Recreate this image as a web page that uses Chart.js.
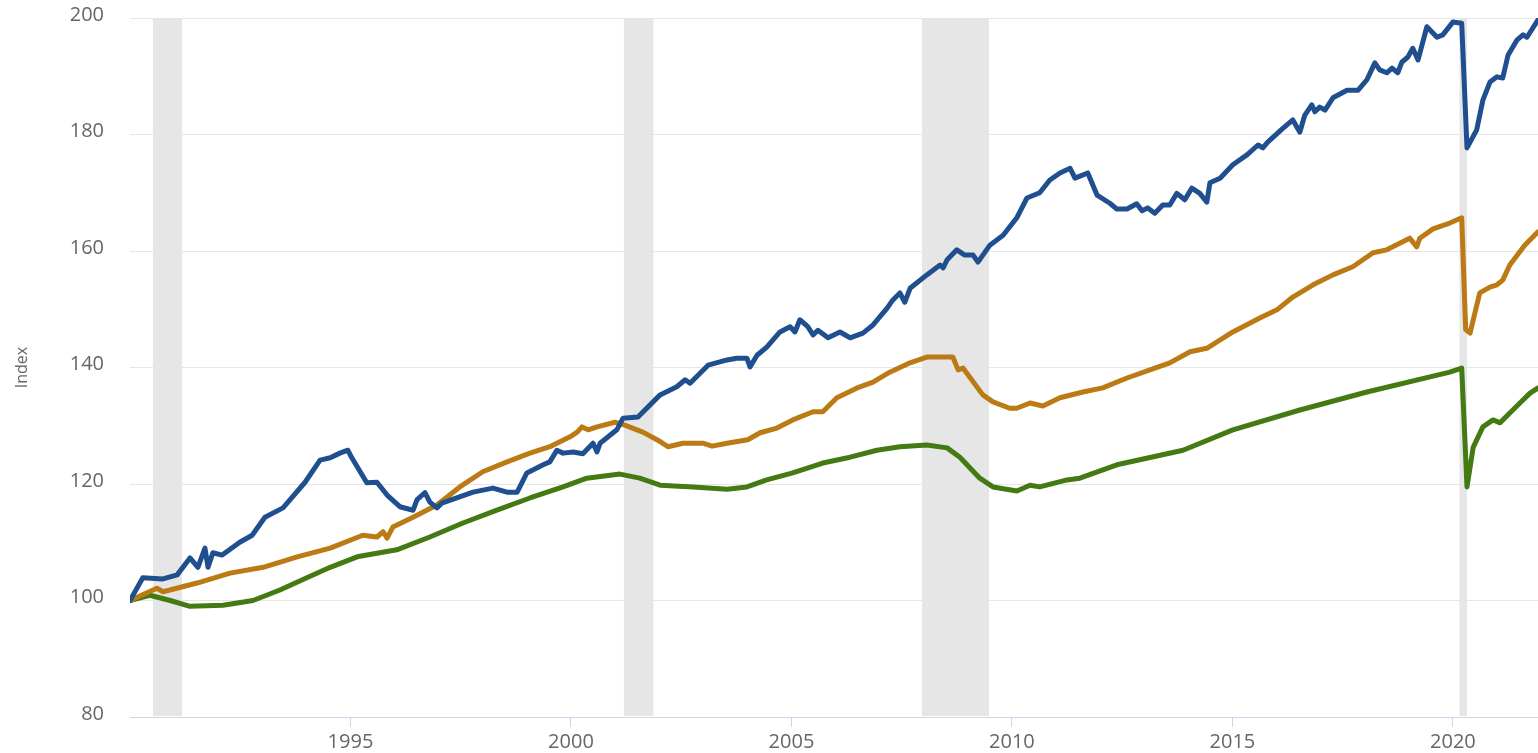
<!DOCTYPE html>
<html>
<head>
<meta charset="utf-8">
<script src="https://cdn.jsdelivr.net/npm/chart.js@4/dist/chart.umd.min.js"></script>
<style>
  html, body { margin: 0; padding: 0; background: #ffffff; }
  #wrap { width: 1538px; height: 753px; }
</style>
</head>
<body>
<div id="wrap"><canvas id="c" width="1538" height="753"></canvas></div>
<script>
// ---- Data (decimal years, index values) ----
const blueDates = [1990.00,1990.29,1990.75,1991.07,1991.36,1991.54,1991.70,1991.77,1991.88,1992.09,1992.49,1992.77,1993.06,1993.47,1993.97,1994.31,1994.54,1994.76,1994.94,1995.03,1995.37,1995.60,1995.83,1996.12,1996.42,1996.51,1996.69,1996.80,1996.96,1997.07,1997.41,1997.78,1998.23,1998.55,1998.78,1999.00,1999.37,1999.52,1999.68,1999.82,2000.05,2000.27,2000.50,2000.59,2000.66,2001.04,2001.18,2001.52,2002.02,2002.40,2002.59,2002.70,2003.11,2003.54,2003.76,2003.99,2004.06,2004.22,2004.44,2004.74,2004.97,2005.08,2005.19,2005.37,2005.49,2005.60,2005.83,2006.10,2006.33,2006.62,2006.85,2007.17,2007.30,2007.46,2007.57,2007.69,2008.07,2008.37,2008.44,2008.53,2008.75,2008.93,2009.12,2009.23,2009.50,2009.80,2010.11,2010.34,2010.63,2010.86,2011.09,2011.32,2011.43,2011.72,2011.93,2012.22,2012.38,2012.61,2012.83,2012.95,2013.08,2013.24,2013.42,2013.58,2013.74,2013.92,2014.08,2014.26,2014.42,2014.49,2014.72,2015.01,2015.33,2015.58,2015.69,2015.80,2016.15,2016.37,2016.53,2016.64,2016.80,2016.87,2016.98,2017.10,2017.28,2017.60,2017.85,2018.05,2018.23,2018.34,2018.50,2018.62,2018.75,2018.84,2018.98,2019.09,2019.21,2019.41,2019.64,2019.77,2020.00,2020.20,2020.32,2020.54,2020.68,2020.84,2021.00,2021.13,2021.25,2021.45,2021.59,2021.68,2021.93];
const blueValues = [100.0,103.9,103.7,104.4,107.3,105.7,109.0,105.7,108.2,107.8,110.0,111.2,114.3,115.9,120.3,124.1,124.5,125.3,125.8,124.5,120.2,120.3,118.1,116.1,115.5,117.3,118.5,116.9,115.9,116.7,117.6,118.6,119.3,118.6,118.6,121.9,123.3,123.8,125.8,125.3,125.5,125.2,127.0,125.5,127.0,129.3,131.3,131.5,135.3,136.7,137.9,137.3,140.4,141.3,141.6,141.6,140.1,142.1,143.5,146.1,147.0,146.1,148.2,147.0,145.6,146.4,145.1,146.1,145.1,145.9,147.3,150.2,151.6,152.8,151.2,153.6,155.9,157.6,157.1,158.5,160.2,159.3,159.3,158.1,161.0,162.7,165.7,169.1,170.0,172.2,173.4,174.2,172.5,173.4,169.6,168.2,167.2,167.2,168.1,166.9,167.4,166.5,167.9,167.9,169.9,168.8,170.8,169.9,168.4,171.7,172.5,174.8,176.5,178.2,177.7,178.7,181.1,182.5,180.4,183.3,185.1,183.9,184.7,184.2,186.3,187.6,187.6,189.4,192.3,191.1,190.6,191.4,190.6,192.4,193.3,194.8,192.8,198.5,196.7,197.1,199.3,199.1,177.7,180.8,185.9,189.0,189.9,189.7,193.6,196.2,197.1,196.7,199.7];

const orangeDates = [1990.00,1990.61,1990.75,1991.52,1992.27,1993.02,1993.79,1994.54,1995.28,1995.60,1995.74,1995.83,1995.96,1996.42,1996.96,1997.48,1998.00,1998.55,1999.07,1999.52,1999.98,2000.14,2000.25,2000.39,2000.59,2001.00,2001.22,2001.63,2001.95,2002.20,2002.54,2002.99,2003.20,2003.54,2004.01,2004.29,2004.67,2005.03,2005.49,2005.71,2006.03,2006.49,2006.85,2007.23,2007.69,2008.07,2008.66,2008.78,2008.89,2009.34,2009.57,2009.95,2010.11,2010.41,2010.70,2011.09,2011.61,2012.06,2012.61,2013.13,2013.58,2014.04,2014.42,2015.01,2015.62,2016.01,2016.37,2016.83,2017.28,2017.73,2018.19,2018.50,2019.02,2019.18,2019.25,2019.55,2019.93,2020.20,2020.29,2020.39,2020.50,2020.61,2020.84,2021.00,2021.13,2021.29,2021.63,2021.93];
const orangeValues = [100.0,102.1,101.5,103.0,104.7,105.7,107.5,109.0,111.2,110.9,111.8,110.7,112.6,114.3,116.4,119.5,122.1,123.8,125.3,126.4,128.1,128.9,129.8,129.3,129.8,130.6,130.1,128.9,127.6,126.4,127.0,127.0,126.5,127.0,127.6,128.8,129.6,131.0,132.4,132.4,134.8,136.5,137.5,139.2,140.8,141.8,141.8,139.6,139.9,135.3,134.1,133.0,133.0,133.9,133.4,134.8,135.8,136.5,138.2,139.6,140.8,142.7,143.3,146.1,148.5,149.9,152.1,154.2,155.9,157.3,159.7,160.2,162.2,160.7,162.2,163.8,164.8,165.7,146.5,145.9,149.4,152.8,153.8,154.2,155.0,157.6,161.0,163.3];

const greenDates = [1990.00,1990.45,1990.91,1991.36,1992.11,1992.79,1993.40,1994.01,1994.54,1995.15,1996.05,1996.80,1997.55,1998.32,1999.07,1999.82,2000.36,2001.11,2001.56,2002.02,2002.77,2003.54,2003.99,2004.44,2005.03,2005.71,2006.33,2006.94,2007.46,2008.07,2008.53,2008.82,2009.27,2009.57,2010.11,2010.41,2010.63,2011.25,2011.54,2012.38,2013.88,2015.01,2016.53,2018.05,2019.93,2020.20,2020.32,2020.46,2020.68,2020.91,2021.07,2021.29,2021.52,2021.75,2021.93];
const greenValues = [100.0,100.9,100.0,99.0,99.2,100.0,101.8,103.9,105.7,107.5,108.7,110.9,113.3,115.5,117.6,119.5,121.0,121.7,121.0,119.8,119.5,119.1,119.5,120.7,121.9,123.6,124.6,125.8,126.4,126.7,126.2,124.6,121.0,119.5,118.8,119.8,119.5,120.7,121.0,123.3,125.8,129.3,132.7,135.8,139.2,139.9,119.5,126.3,129.8,131.0,130.5,132.2,133.9,135.6,136.5];

// Recession periods (shaded)
const recessionStarts = [1990.52, 2001.20, 2007.96, 2020.15];
const recessionEnds   = [1991.18, 2001.87, 2009.48, 2020.32];

// Axis ticks
const xTickYears = [1995, 2000, 2005, 2010, 2015, 2020];
const yTickValues = [80, 100, 120, 140, 160, 180, 200];

const toPts = (xs, ys) => xs.map((x, i) => ({ x: x, y: ys[i] }));

const recessionPlugin = {
  id: 'recessions',
  beforeDatasetsDraw(chart) {
    const { ctx, chartArea, scales } = chart;
    ctx.save();
    ctx.fillStyle = '#e6e6e6';
    for (let i = 0; i < recessionStarts.length; i++) {
      const x1 = scales.x.getPixelForValue(recessionStarts[i]);
      const x2 = scales.x.getPixelForValue(recessionEnds[i]);
      ctx.fillRect(x1, chartArea.top, x2 - x1, chartArea.bottom - chartArea.top - 1);
    }
    ctx.restore();
  }
};

const lineDs = (label, pts, color) => ({
  label, data: pts, borderColor: color, backgroundColor: color,
  borderWidth: 5, pointRadius: 0, tension: 0,
  borderJoinStyle: 'round', borderCapStyle: 'round', fill: false
});

new Chart(document.getElementById('c'), {
  type: 'line',
  data: {
    datasets: [
      lineDs('Series A', toPts(blueDates, blueValues), '#1f4f8f'),
      lineDs('Series B', toPts(orangeDates, orangeValues), '#bb7a14'),
      lineDs('Series C', toPts(greenDates, greenValues), '#437a12')
    ]
  },
  plugins: [recessionPlugin],
  options: {
    responsive: false,
    devicePixelRatio: 1,
    animation: false,
    layout: { padding: { top: 18, right: 0, left: 0, bottom: 0 } },
    plugins: { legend: { display: false }, tooltip: { enabled: false } },
    scales: {
      x: {
        type: 'linear',
        min: 1990,
        max: 2021.93,
        afterBuildTicks: (s) => { s.ticks = xTickYears.map(v => ({ value: v })); },
        afterFit: (s) => { s.height = 36; },
        grid: { drawOnChartArea: false, drawTicks: true, tickLength: 10, tickColor: '#ccd6eb', lineWidth: 1 },
        border: { display: true, color: '#ccd6eb', width: 1 },
        ticks: {
          color: '#666666', padding: 3,
          font: { family: 'Open Sans', size: 20 },
          callback: (v) => String(v), maxRotation: 0, autoSkip: false
        }
      },
      y: {
        min: 80, max: 200,
        afterBuildTicks: (s) => { s.ticks = yTickValues.map(v => ({ value: v })); },
        afterFit: (s) => { s.width = 130; },
        grid: { color: '#e6e6e6', lineWidth: 1, drawTicks: true, tickLength: 26, tickColor: 'rgba(0,0,0,0)' },
        border: { display: false },
        ticks: {
          color: '#666666', padding: 0, labelOffset: -3,
          font: { family: 'Open Sans', size: 20 },
          callback: (v) => String(v)
        },
        title: {
          display: true, text: 'Index', color: '#666666',
          font: { family: 'Open Sans', size: 16 },
          padding: { top: 13, bottom: 0 }
        }
      }
    }
  }
});
</script>
</body>
</html>
